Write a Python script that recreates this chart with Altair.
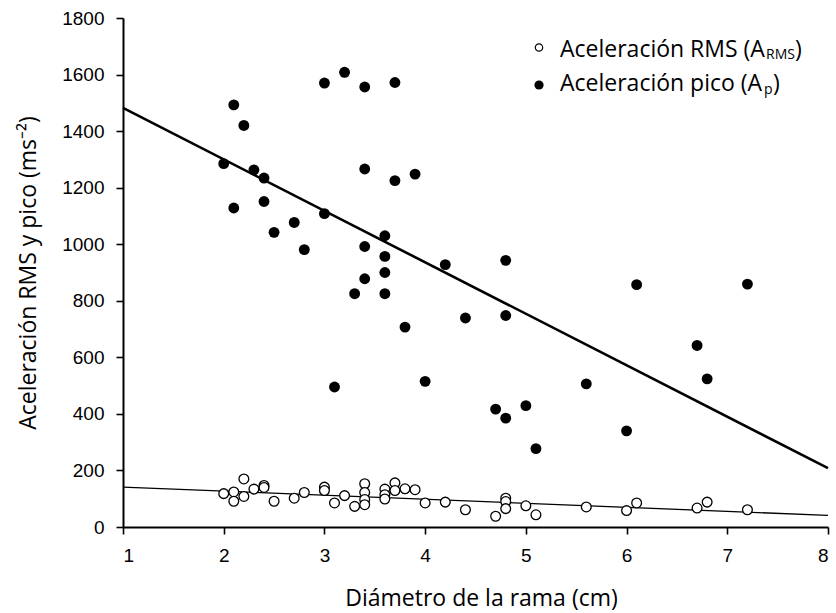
import altair as alt
import pandas as pd

# Aceleración pico (filled)
pico_x = [2.0, 2.1, 2.1, 2.2, 2.3, 2.4, 2.4, 2.5, 2.7, 2.8, 3.0, 3.0, 3.1, 3.2, 3.3,
          3.4, 3.4, 3.4, 3.4, 3.6, 3.6, 3.6, 3.6, 3.7, 3.7, 3.8, 3.9, 4.0, 4.2, 4.4,
          4.7, 4.8, 4.8, 4.8, 5.0, 5.1, 5.6, 6.0, 6.1, 6.7, 6.8, 7.2]
pico_y = [1285, 1493, 1128, 1420, 1263, 1234, 1151, 1042, 1077, 981, 1570, 1108, 495, 1608, 825,
          1556, 1266, 992, 878, 1030, 957, 900, 825, 1572, 1225, 707, 1248, 515, 928, 739,
          417, 943, 748, 385, 429, 277, 506, 340, 857, 642, 524, 859]

# Aceleración RMS (open)
rms_x = [2.0, 2.1, 2.1, 2.2, 2.2, 2.3, 2.4, 2.4, 2.5, 2.7, 2.8, 3.0, 3.0, 3.1, 3.2, 3.3,
         3.4, 3.4, 3.4, 3.4, 3.6, 3.6, 3.6, 3.7, 3.7, 3.8, 3.9, 4.0, 4.2, 4.4, 4.7,
         4.8, 4.8, 4.8, 5.0, 5.1, 5.6, 6.0, 6.1, 6.7, 6.8, 7.2]
rms_y = [118, 124, 91, 170, 108, 134, 147, 140, 91, 102, 122, 141, 129, 85, 111, 73,
         153, 122, 97, 79, 134, 114, 99, 156, 129, 135, 132, 85, 88, 61, 38,
         102, 90, 65, 75, 43, 71, 58, 85, 67, 88, 61]

# Fitted regression lines (end points)
fit_x = [1, 8]
fit_pico = [1482, 208]
fit_rms = [141, 41]

pico_df = pd.DataFrame({"x": pico_x, "y": pico_y})
rms_df = pd.DataFrame({"x": rms_x, "y": rms_y})
fit_df = pd.DataFrame({"x": fit_x, "pico": fit_pico, "rms": fit_rms})

FONT = "Open Sans"
TICKFONT = "Liberation Sans"

xscale = alt.Scale(domain=[1, 8], nice=False, zero=False)
yscale = alt.Scale(domain=[0, 1800], nice=False)

xenc = alt.X("x:Q", scale=xscale,
             axis=alt.Axis(values=[1, 2, 3, 4, 5, 6, 7, 8], title="Diámetro de la rama (cm)",
                           titleX=358, titleY=78, titleBaseline="alphabetic",
                           labelPadding=12, tickSize=7, format="d"))
yaxis = alt.Axis(values=list(range(0, 1801, 200)), title="Aceleración RMS y pico (ms⁻²)",
                 titleAngle=-90, titleX=-88, titleY=254.5, titleAlign="center",
                 titleBaseline="alphabetic", labelPadding=12, tickSize=7, format="d")

line_pico = alt.Chart(fit_df).mark_line(color="black", strokeWidth=2.6).encode(
    x=xenc, y=alt.Y("pico:Q", scale=yscale, axis=yaxis))
line_rms = alt.Chart(fit_df).mark_line(color="black", strokeWidth=1.3).encode(
    x=alt.X("x:Q", scale=xscale), y=alt.Y("rms:Q", scale=yscale))

pts_rms = alt.Chart(rms_df).mark_point(shape="circle", filled=True, fill="white", stroke="black",
                                       strokeWidth=1.3, size=95, opacity=1).encode(
    x=alt.X("x:Q", scale=xscale), y=alt.Y("y:Q", scale=yscale))
pts_pico = alt.Chart(pico_df).mark_point(shape="circle", filled=True, fill="black", stroke="black",
                                         strokeWidth=0, size=118, opacity=1).encode(
    x=alt.X("x:Q", scale=xscale), y=alt.Y("y:Q", scale=yscale))

one = alt.Data(values=[{}])

def txt(s, x, y, size):
    return alt.Chart(one).mark_text(text=s, font=FONT, fontSize=size, align="left",
                                    baseline="alphabetic", color="black").encode(
        x=alt.value(x), y=alt.value(y))

leg_open = alt.Chart(one).mark_point(shape="circle", filled=True, fill="white", stroke="black",
                                     strokeWidth=1.2, size=55, opacity=1).encode(
    x=alt.value(416), y=alt.value(29.5))
leg_fill = alt.Chart(one).mark_point(shape="circle", filled=True, fill="black",
                                     strokeWidth=0, size=85, opacity=1).encode(
    x=alt.value(416), y=alt.value(67))

legend = [
    leg_open, leg_fill,
    txt("Aceleración RMS (A", 437, 38.7, 23),
    txt("RMS", 643, 40.5, 14),
    txt(")", 672, 38.7, 23),
    txt("Aceleración pico (A", 437, 73.4, 23),
    txt("p", 641, 75.5, 14),
    txt(")", 650, 73.4, 23),
]

chart = alt.layer(line_rms, line_pico, pts_rms, pts_pico, *legend).properties(
    width=705, height=509,
    padding={"left": 123, "top": 18, "right": 8, "bottom": 86},
    autosize=alt.AutoSizeParams(type="none"),
    background="white",
).configure_view(stroke=None).configure_axis(
    grid=False, domainColor="black", domainWidth=2, tickColor="black", tickWidth=1.6,
    labelFont=TICKFONT, labelFontSize=19, labelColor="black",
    titleFont=FONT, titleFontSize=23, titleFontWeight="normal", titleColor="black",
)

chart.save("out.html", embed_options={"renderer": "svg", "actions": False})
